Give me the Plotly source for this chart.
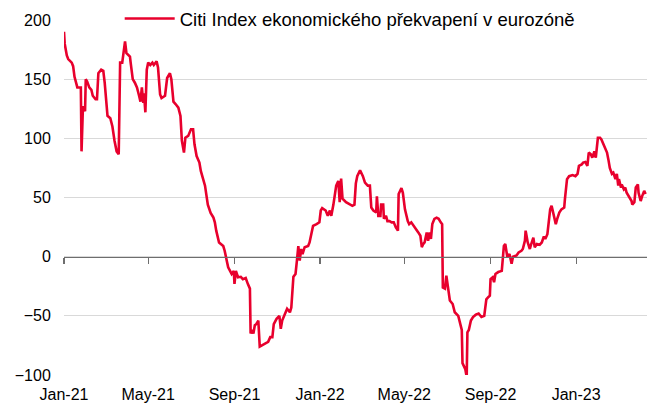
import plotly.graph_objects as go

series_name = "Citi Index ekonomického překvapení v eurozóně"

dates = [
    "2021-01-01", "2021-01-02", "2021-01-05", "2021-01-07", "2021-01-12", "2021-01-14", "2021-01-16",
    "2021-01-20", "2021-01-25", "2021-01-26", "2021-01-28", "2021-01-31", "2021-02-01", "2021-02-03",
    "2021-02-06", "2021-02-09", "2021-02-11", "2021-02-15", "2021-02-17", "2021-02-19", "2021-02-23",
    "2021-02-26", "2021-02-28", "2021-03-02", "2021-03-04", "2021-03-08", "2021-03-11", "2021-03-14",
    "2021-03-17", "2021-03-20", "2021-03-22", "2021-03-25", "2021-03-27", "2021-03-29", "2021-03-31",
    "2021-04-05", "2021-04-06", "2021-04-09", "2021-04-12", "2021-04-15", "2021-04-18", "2021-04-20",
    "2021-04-22", "2021-04-24", "2021-04-25", "2021-04-27", "2021-04-29", "2021-05-01", "2021-05-04",
    "2021-05-07", "2021-05-09", "2021-05-13", "2021-05-15", "2021-05-18", "2021-05-20", "2021-05-25",
    "2021-05-28", "2021-06-01", "2021-06-03", "2021-06-06", "2021-06-09", "2021-06-13", "2021-06-16",
    "2021-06-18", "2021-06-21", "2021-06-23", "2021-06-27", "2021-07-01", "2021-07-04", "2021-07-06",
    "2021-07-09", "2021-07-13", "2021-07-15", "2021-07-18", "2021-07-21", "2021-07-25", "2021-07-29",
    "2021-08-02", "2021-08-04", "2021-08-06", "2021-08-10", "2021-08-16", "2021-08-18", "2021-08-21",
    "2021-08-23", "2021-08-28", "2021-08-31", "2021-09-01", "2021-09-03", "2021-09-06", "2021-09-10",
    "2021-09-13", "2021-09-17", "2021-09-20", "2021-09-23", "2021-09-24", "2021-09-26", "2021-09-28",
    "2021-09-30", "2021-10-02", "2021-10-05", "2021-10-07", "2021-10-10", "2021-10-14", "2021-10-19",
    "2021-10-22", "2021-10-25", "2021-10-27", "2021-10-31", "2021-11-04", "2021-11-06", "2021-11-08",
    "2021-11-12", "2021-11-15", "2021-11-19", "2021-11-21", "2021-11-24", "2021-11-27", "2021-11-29",
    "2021-12-01", "2021-12-03", "2021-12-05", "2021-12-07", "2021-12-10", "2021-12-15", "2021-12-17",
    "2021-12-20", "2021-12-22", "2021-12-27", "2021-12-31", "2022-01-02", "2022-01-04", "2022-01-09",
    "2022-01-12", "2022-01-15", "2022-01-17", "2022-01-20", "2022-01-22", "2022-01-24", "2022-01-27",
    "2022-01-29", "2022-01-31", "2022-02-02", "2022-02-07", "2022-02-12", "2022-02-16", "2022-02-19",
    "2022-02-21", "2022-02-23", "2022-02-27", "2022-03-03", "2022-03-06", "2022-03-10", "2022-03-13",
    "2022-03-15", "2022-03-18", "2022-03-22", "2022-03-23", "2022-03-25", "2022-03-28", "2022-03-29",
    "2022-04-01", "2022-04-02", "2022-04-05", "2022-04-07", "2022-04-10", "2022-04-13", "2022-04-16",
    "2022-04-19", "2022-04-22", "2022-04-23", "2022-04-27", "2022-04-29", "2022-05-02", "2022-05-06",
    "2022-05-08", "2022-05-11", "2022-05-15", "2022-05-18", "2022-05-21", "2022-05-24", "2022-05-26",
    "2022-05-28", "2022-05-30", "2022-06-02", "2022-06-04", "2022-06-06", "2022-06-08", "2022-06-10",
    "2022-06-13", "2022-06-16", "2022-06-19", "2022-06-22", "2022-06-24", "2022-06-25", "2022-06-28",
    "2022-06-30", "2022-07-03", "2022-07-05", "2022-07-09", "2022-07-12", "2022-07-17", "2022-07-19",
    "2022-07-22", "2022-07-23", "2022-07-25", "2022-07-27", "2022-07-29", "2022-07-30", "2022-08-01",
    "2022-08-04", "2022-08-07", "2022-08-11", "2022-08-15", "2022-08-19", "2022-08-23", "2022-08-26",
    "2022-08-29", "2022-08-31", "2022-09-01", "2022-09-04", "2022-09-06", "2022-09-08", "2022-09-12",
    "2022-09-17", "2022-09-20", "2022-09-22", "2022-09-25", "2022-09-28", "2022-10-01", "2022-10-03",
    "2022-10-08", "2022-10-11", "2022-10-15", "2022-10-17", "2022-10-20", "2022-10-21", "2022-10-24",
    "2022-10-27", "2022-10-29", "2022-11-01", "2022-11-03", "2022-11-06", "2022-11-10", "2022-11-13",
    "2022-11-16", "2022-11-18", "2022-11-21", "2022-11-23", "2022-11-25", "2022-11-27", "2022-11-30",
    "2022-12-03", "2022-12-05", "2022-12-08", "2022-12-11", "2022-12-15", "2022-12-16", "2022-12-19",
    "2022-12-22", "2022-12-27", "2022-12-31", "2023-01-03", "2023-01-05", "2023-01-09", "2023-01-11",
    "2023-01-14", "2023-01-17", "2023-01-19", "2023-01-22", "2023-01-24", "2023-01-27", "2023-01-29",
    "2023-02-01", "2023-02-04", "2023-02-06", "2023-02-09", "2023-02-11", "2023-02-14", "2023-02-16",
    "2023-02-18", "2023-02-21", "2023-02-23", "2023-02-26", "2023-02-28", "2023-03-02", "2023-03-03",
    "2023-03-06", "2023-03-07", "2023-03-10", "2023-03-12", "2023-03-14", "2023-03-18", "2023-03-21",
    "2023-03-22", "2023-03-25", "2023-03-27", "2023-03-30", "2023-03-31", "2023-04-03", "2023-04-05",
    "2023-04-08", "2023-04-10",
]

values = [
    190, 180, 170, 167, 164, 161, 152,
    143, 143, 89, 127, 123, 150, 148,
    143, 141, 136, 133, 133, 155, 158,
    157, 147, 133, 119, 117, 110, 98,
    89, 86.5, 164, 164, 175, 182, 172,
    169, 164, 150, 147, 143, 136, 131,
    143, 130, 138, 122, 158, 164, 162,
    164, 162, 165, 160, 137, 134, 136,
    151, 155, 150, 131, 129, 126, 119,
    98, 88, 100.5, 102, 107.6, 107.6, 95,
    85, 79.5, 72.5, 65.5, 60, 44, 37,
    33, 29, 22, 12, 9, 5, -3.4,
    -9, -14.6, -12, -23, -12, -17.4, -17,
    -19, -18, -23, -27, -65, -62, -65,
    -58, -57, -54, -76, -75, -74, -72,
    -68, -68, -57, -52.5, -50, -61, -54,
    -48, -44, -47, -43, -17, -14.6, -3.4,
    9, -3.4, 6.5, 2.2, 8, 9, 12,
    20.5, 26, 27.5, 29, 39, 41, 39,
    34.5, 39, 34.5, 44, 53, 60, 64,
    46, 66, 49, 46, 44, 43, 44,
    62, 68, 73, 68, 62.6, 60, 60,
    41.5, 39, 37.3, 51, 34.5, 34.5, 44,
    44, 32, 34.5, 30, 30, 29, 29,
    24.7, 22, 53, 58, 54, 40, 30,
    27.5, 29, 26, 23, 20.5, 17.7, 8,
    10.7, 12, 20.5, 13.5, 20.5, 15, 27.5,
    32, 33, 32, 29, 27.5, -26, -27,
    -16, -27, -37, -40, -47, -50, -55,
    -62, -90, -93, -95, -101.7, -64, -62,
    -54, -51, -49, -48, -51, -50, -36,
    -34, -33, -19, -17.4, -21.6, -14.6, -13,
    -12, 9, 10.7, -0.6, 2.2, -6, 0,
    1, 3.6, 5, 6.5, 13.5, 22, 12,
    6.5, 10.7, 16, 8, 10.7, 10, 12,
    17, 15, 19, 27.5, 40, 43, 34.5,
    27.5, 32, 37.3, 40, 41.5, 48.6, 65.5,
    68, 69, 68, 70, 76.7, 78, 79.5,
    80, 76.7, 88, 86.5, 83.7, 89, 83.7,
    100.5, 100.5, 99, 95, 92, 88, 82,
    75, 70, 71, 65.5, 70, 60, 65.5,
    58.4, 61, 57, 58.4, 54, 50, 47,
    44, 46, 58.4, 61, 54, 47, 51,
    55.6, 53,
]

tick_dates = ["2021-01-01", "2021-05-01", "2021-09-01", "2022-01-01",
              "2022-05-01", "2022-09-01", "2023-01-01"]
tick_labels = ["Jan-21", "May-21", "Sep-21", "Jan-22", "May-22", "Sep-22", "Jan-23"]
y_ticks = [-100, -50, 0, 50, 100, 150, 200]

x_range = ["2021-01-01", "2023-04-12"]
line_color = "#E8002D"
font_family = "Liberation Sans, Arial, sans-serif"

fig = go.Figure()
fig.add_trace(go.Scatter(
    x=dates, y=values, mode="lines", name=series_name,
    line=dict(color=line_color, width=2.6),
    hoverinfo="skip",
))
# dummy trace so the zero-line axis (xaxis2) is drawn
fig.add_trace(go.Scatter(
    x=[dates[0]], y=[None], xaxis="x2", yaxis="y", showlegend=False,
    hoverinfo="skip", mode="lines",
))

fig.update_layout(
    width=647, height=405,
    margin=dict(l=64, r=0, t=20, b=30, autoexpand=False),
    paper_bgcolor="white", plot_bgcolor="white",
    font=dict(family=font_family, size=16, color="#000000"),
    showlegend=True,
    legend=dict(
        orientation="h", xref="container", yref="container",
        x=0.185, xanchor="left", y=0.953, yanchor="middle",
        bgcolor="white", borderwidth=0, itemwidth=50,
        font=dict(family=font_family, size=18.5, color="#000000"),
    ),
    xaxis=dict(
        type="date", range=x_range, automargin=False,
        tickmode="array", tickvals=tick_dates, ticktext=tick_labels,
        showgrid=False, showline=False, zeroline=False,
        ticks="outside", ticklen=5, tickcolor="rgba(0,0,0,0)",
        tickfont=dict(family=font_family, size=16, color="#000000"),
    ),
    xaxis2=dict(
        type="date", range=x_range, overlaying="x", anchor="free",
        position=1/3, side="bottom", automargin=False,
        tickmode="array", tickvals=tick_dates,
        showticklabels=False, showgrid=False, zeroline=False,
        showline=True, linecolor="#6E6E6E", linewidth=1.2,
        ticks="outside", ticklen=6, tickcolor="#6E6E6E", tickwidth=1.2,
    ),
    yaxis=dict(
        range=[-100, 200], tickmode="array", tickvals=y_ticks, automargin=False,
        showgrid=True, gridcolor="#D9D9D9", gridwidth=1,
        zeroline=False, showline=False,
        ticks="outside", ticklen=9, tickcolor="rgba(0,0,0,0)",
        tickfont=dict(family=font_family, size=16, color="#000000"),
    ),
)

fig.write_html(
    "out.html",
    config={"displayModeBar": False, "staticPlot": True},
    post_script="document.body.style.margin='0px';document.body.style.overflow='hidden';",
)
